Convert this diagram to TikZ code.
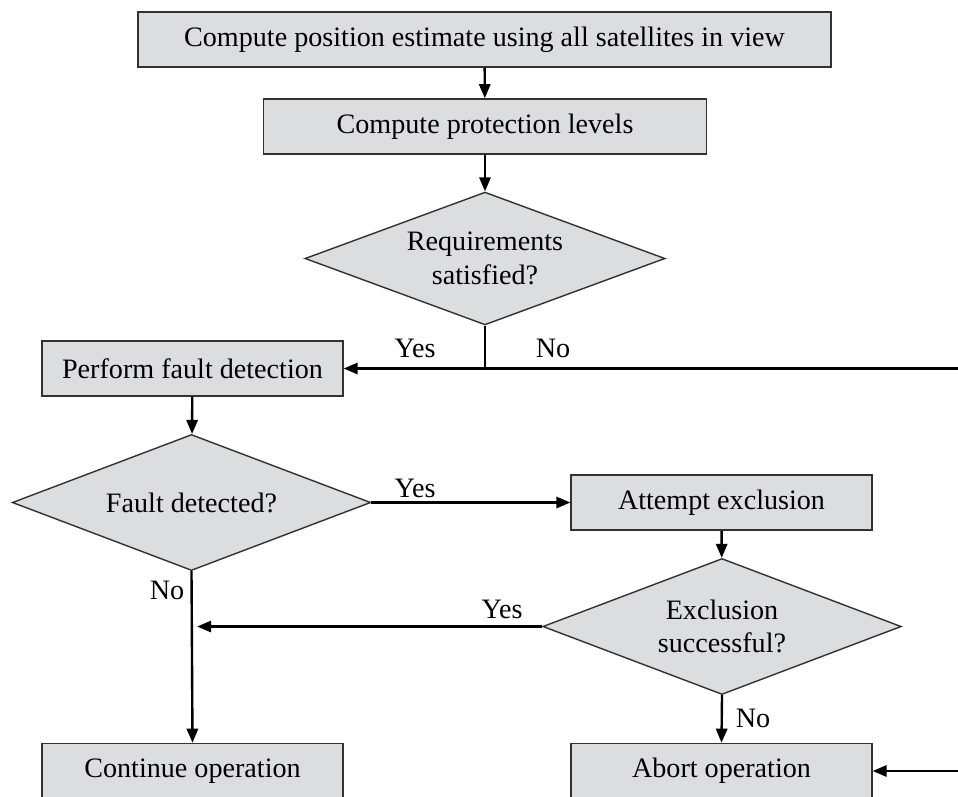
\documentclass[tikz,border=0pt]{standalone}
\usepackage{fontspec}
\setmainfont{Liberation Serif}
\usetikzlibrary{shapes.geometric,arrows.meta}
\definecolor{boxgray}{RGB}{220,221,223}
\definecolor{edgegray}{RGB}{50,50,50}
\tikzset{
  stepbox/.style={draw=edgegray, line width=0.5pt, fill=boxgray, minimum height=0.69cm, inner sep=0pt},
  decide/.style={diamond, draw=edgegray, line width=0.5pt, fill=boxgray, shape aspect=2.7, inner sep=0pt, align=center, minimum width=4.48cm, minimum height=1.7cm},
  flow/.style={line width=0.85pt},
  flowarr/.style={flow, -{Triangle[length=5pt,width=4pt]}}
}
\begin{document}
\begin{tikzpicture}[x=0.0125cm, y=-0.0125cm, font=\fontsize{10}{12}\selectfont]
\useasboundingbox (0,0) rectangle (958,796);
\node[stepbox, minimum width=8.66cm] (comp) at (484.5,39.5) {Compute position estimate using all satellites in view};
\node[stepbox, minimum width=5.53cm] (prot) at (485,126.5) {Compute protection levels};
\node[decide, minimum height=1.66cm, minimum width=4.5cm] (req) at (485,258.5) {Requirements\\satisfied?};
\node[stepbox, minimum width=3.76cm] (perf) at (192.5,368.5) {Perform fault detection};
\node[decide] (fault) at (191.5,502.5) {Fault detected?};
\node[stepbox, minimum width=3.76cm] (att) at (721.5,502.5) {Attempt exclusion};
\node[decide] (excl) at (722,626.5) {Exclusion\\successful?};
\node[stepbox, minimum width=3.76cm] (cont) at (192.5,771) {Continue operation};
\node[stepbox, minimum width=3.76cm] (abort) at (721.5,771) {Abort operation};
\coordinate (reqno) at (958,368.5);
\coordinate (abortin) at (958,771);
% connectors
\draw[flowarr] (comp) -- (prot);
\draw[flowarr] (prot) -- (req);
\draw[flow] (req.south) -- (req.south |- perf.east);
\draw[flowarr] (reqno) -- (perf.east);
\draw[flowarr] (perf) -- (fault);
\draw[flowarr] (fault.east) -- (att.west);
\draw[flowarr] (fault.south) -- (cont.north);
\draw[flowarr] (att) -- (excl);
\draw[flowarr] (excl.west) -- ([xshift=2]fault.south |- excl.west);
\draw[flowarr] (excl.south) -- (abort.north);
\draw[flowarr] (abortin) -- (abort.east);
% labels
\node (reqyes) at (415,348) {Yes};
\node (reqnot) at (553,348) {No};
\node (faultyes) at (415,488) {Yes};
\node (faultnot) at (167,590) {No};
\node (exclyes) at (502,609) {Yes};
\node (exclnot) at (753,718) {No};
\end{tikzpicture}
\end{document}
